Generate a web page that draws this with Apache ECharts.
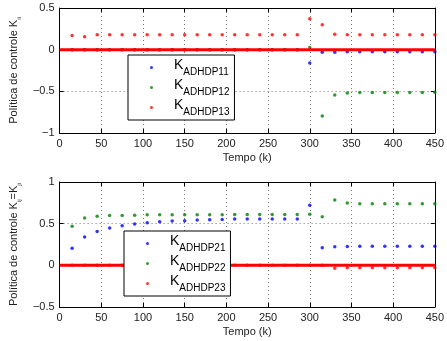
<!DOCTYPE html>
<html><head><meta charset="utf-8">
<script src="https://cdn.jsdelivr.net/npm/echarts@6/dist/echarts.min.js"></script>
<style>html,body{margin:0;padding:0;background:#fff}#c{width:447px;height:341px}</style>
</head><body><div id="c"></div>
<script>
// update instants (k)
const kSteps = [15,30,45,60,75,90,105,120,135,150,165,180,195,210,225,240,255,270,285,300,315,330,345,360,375,390,405,420,435,450];
// top panel: K_ii
const K11 = [0,0,0,0,0,0,0,0,0,0,0,0,0,0,0,0,0,0,0,-0.16,-0.03,-0.03,-0.025,-0.025,-0.025,-0.025,-0.025,-0.025,-0.025,-0.025];
const K12 = [0,0,0,0,0,0,0,0,0,0,0,0,0,0,0,0,0,0,0,0.025,-0.795,-0.545,-0.52,-0.515,-0.515,-0.515,-0.515,-0.515,-0.515,-0.512];
const K13 = [0.17,0.155,0.18,0.18,0.18,0.18,0.18,0.18,0.18,0.18,0.18,0.18,0.18,0.18,0.18,0.18,0.18,0.18,0.18,0.37,0.30,0.185,0.18,0.18,0.18,0.18,0.18,0.18,0.18,0.18];
// bottom panel: K_ij = K_ji
const K21 = [0.205,0.339,0.405,0.449,0.476,0.496,0.512,0.524,0.531,0.535,0.543,0.547,0.551,0.555,0.555,0.555,0.555,0.555,0.555,0.72,0.212,0.224,0.227,0.228,0.228,0.228,0.228,0.228,0.228,0.228];
const K22 = [0.468,0.567,0.59,0.598,0.598,0.602,0.606,0.606,0.606,0.606,0.606,0.606,0.606,0.61,0.61,0.61,0.61,0.61,0.61,0.613,0.582,0.783,0.748,0.738,0.738,0.738,0.738,0.738,0.738,0.738];
const K23 = [0,0,0,0,0,0,0,0,0,0,0,0,0,0,0,0,0,0,0,0,0,-0.035,-0.028,-0.028,-0.028,-0.028,-0.028,-0.028,-0.028,-0.028];
// dense zero output between updates
const zeroTrack = [[0,0],[450,0]];
const namesTop = ['ADHDP11','ADHDP12','ADHDP13'];
const namesBot = ['ADHDP21','ADHDP22','ADHDP23'];
const xTicks = {min:0,max:450,interval:50};
const yTop = {min:-1,max:0.5,interval:0.5};
const yBot = {min:-0.5,max:1,interval:0.5};

const FONT = 'Liberation Sans, Arial, Helvetica, sans-serif';
const colors = ['#0000ff','#008000','#ff0000'];
const minus = v => String(v).replace('-', '\u2212');

function xAx(gi, pos, labels){
  return Object.assign({type:'value', gridIndex:gi, position:pos}, xTicks, {
    axisLine:{show:true,onZero:false,lineStyle:{color:'#000',width:1}},
    axisTick:{show:true,inside:true,length:4,lineStyle:{color:'#000'}},
    axisLabel:{show:labels,color:'#222',fontSize:11,fontFamily:FONT,margin:5,formatter:minus},
    splitLine:{show:labels,lineStyle:{color:'#777',type:[1,3],width:1}},
    name: labels ? 'Tempo (k)' : '', nameLocation:'middle', nameGap:19,
    nameTextStyle:{color:'#222',fontSize:11,fontFamily:FONT,verticalAlign:'top'}
  });
}
function yAx(gi, pos, labels, range, sub){
  return Object.assign({type:'value', gridIndex:gi, position:pos}, range, {
    axisLine:{show:true,onZero:false,lineStyle:{color:'#000',width:1}},
    axisTick:{show:true,inside:true,length:4,lineStyle:{color:'#000'}},
    axisLabel:{show:labels,color:'#222',fontSize:11,fontFamily:FONT,margin:5,formatter:minus},
    splitLine:{show:labels,lineStyle:{color:'#777',type:[1,3],width:1}},
    name: labels ? sub : '', nameLocation:'middle', nameGap:37, nameRotate:90,
    nameTextStyle:{color:'#222',fontSize:11,fontFamily:FONT,
      rich:{a:{fontSize:11,fontFamily:FONT,color:'#222',verticalAlign:'bottom',padding:[0,0,3,0]},
            b:{fontSize:6,fontFamily:FONT,color:'#222',verticalAlign:'bottom'}}}
  });
}
function scat(name, xi, yi, vals, c){
  return {name:name, type:'scatter', xAxisIndex:xi, yAxisIndex:yi, symbol:'circle', symbolSize:3.5,
    itemStyle:{color:c}, data:kSteps.map((k,i)=>[k, vals[i]]), z:2, silent:true};
}
function legend(names, left, top){
  return {data:names, orient:'vertical', left:left, top:top, itemWidth:3, itemHeight:3, icon:'circle',
    itemGap:1, padding:[3,5,3,22], borderColor:'#000', borderWidth:1, backgroundColor:'#fff',
    formatter: n => '{k|K}{s|' + n + '}',
    textStyle:{rich:{k:{fontSize:14,fontFamily:FONT,color:'#000',verticalAlign:'bottom',padding:[0,0,5,16]},
                     s:{fontSize:10,fontFamily:FONT,color:'#000',verticalAlign:'bottom'}}}};
}

const chart = echarts.init(document.getElementById('c'), null, {renderer:'canvas'});
chart.setOption({
  animation:false,
  backgroundColor:'#fff',
  grid:[{left:58,top:8,width:380,height:125},{left:58,top:182,width:380,height:125}],
  xAxis:[xAx(0,'bottom',true), xAx(0,'top',false), xAx(1,'bottom',true), xAx(1,'top',false)],
  yAxis:[yAx(0,'left',true,yTop,'{a|Política de controle K}{b|ii}'), yAx(0,'right',false,yTop,''),
         yAx(1,'left',true,yBot,'{a|Política de controle K}{b|ij}{a|=K}{b|ji}'), yAx(1,'right',false,yBot,'')],
  legend:[legend(namesTop,128,55), legend(namesBot,124,231)],
  series:[
    scat(namesTop[0],0,0,K11,colors[0]), scat(namesTop[1],0,0,K12,colors[1]), scat(namesTop[2],0,0,K13,colors[2]),
    {name:'zeroTop',type:'line',xAxisIndex:0,yAxisIndex:0,data:zeroTrack,symbol:'none',silent:true,z:3,
     lineStyle:{color:'#ff0000',width:3}},
    scat(namesBot[0],2,2,K21,colors[0]), scat(namesBot[1],2,2,K22,colors[1]), scat(namesBot[2],2,2,K23,colors[2]),
    {name:'zeroBot',type:'line',xAxisIndex:2,yAxisIndex:2,data:zeroTrack,symbol:'none',silent:true,z:3,
     lineStyle:{color:'#ff0000',width:3}}
  ]
});
</script></body></html>
